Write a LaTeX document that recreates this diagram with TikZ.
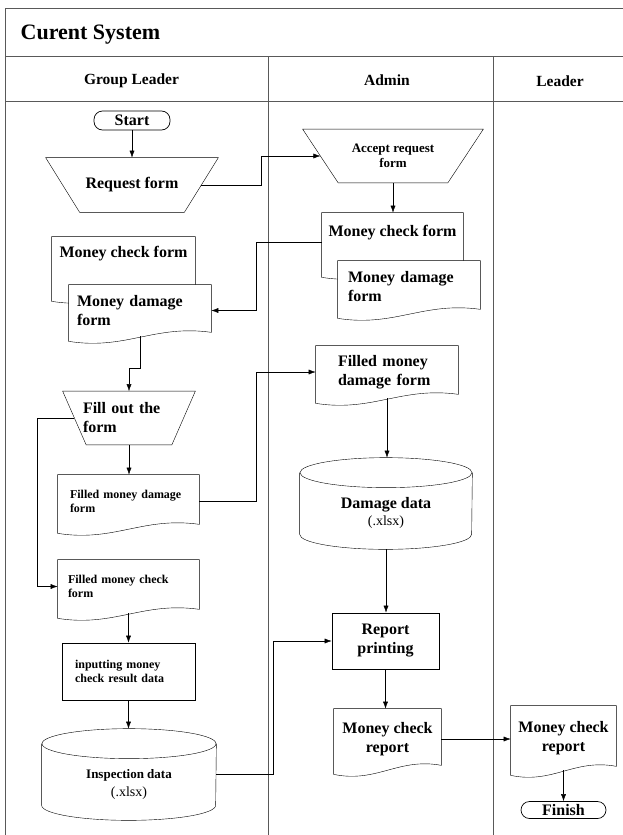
\documentclass[tikz,border=0pt]{standalone}
\usepackage{fontspec}
\setmainfont{Liberation Serif}
\usetikzlibrary{arrows.meta,calc}

\pgfdeclarelayer{background}
\pgfsetlayers{background,main}

% document outline, wavy bottom edge
\newcommand{\docout}[1]{%
  \draw[fill=white] ($(#1.south west)+(0,5)$) -- (#1.north west) -- (#1.north east)
    -- ($(#1.south east)+(0,-4)$)
    .. controls ($(#1.south west)!0.6!(#1.south east)+(0,-12)$)
    and ($(#1.south west)!0.4!(#1.south east)+(0,14)$) .. ($(#1.south west)+(0,5)$) -- cycle;}
% manual operation (wide top, narrow bottom)
\newcommand{\manout}[2]{%
  \draw[fill=white] (#1.north west) -- (#1.north east) -- ($(#1.south east)+(-#2,0)$)
    -- ($(#1.south west)+(#2,0)$) -- cycle;}
% stored data (cylinder)
\newcommand{\cylout}[2]{%
  \draw[fill=white] ($(#1.north west)+(0,15)$) -- ($(#1.south west)+(0,-15)$)
    arc[start angle=180, end angle=360, x radius=#2, y radius=15pt]
    -- ($(#1.north east)+(0,15)$);
  \draw[fill=white] ($(#1.north)+(0,15)$) circle[x radius=#2, y radius=15pt];}

\begin{document}
\begin{tikzpicture}[x=1pt, y=-1pt, line width=0.7pt,
    bigtext/.style={font=\fontsize{16}{19}\selectfont\bfseries},
    midtext/.style={font=\fontsize{13}{15}\selectfont\bfseries},
    smalltext/.style={font=\fontsize{12}{13.5}\selectfont\bfseries},
    headtext/.style={font=\fontsize{15.5}{18}\selectfont\bfseries},
    term/.style={draw, rounded corners=8.5pt, inner sep=0pt, bigtext},
    proc/.style={draw, inner sep=0pt},
    manual/.style={inner sep=0pt},
    docnode/.style={inner sep=0pt},
    store/.style={inner sep=0pt, align=center},
    flow/.style={-{Latex[length=7pt,width=5pt]}},
    lane/.style={line width=1pt, black!65}]
  \useasboundingbox (0,0) rectangle (623,835);

  % titles
  \node[anchor=west, font=\fontsize{22}{26}\selectfont\bfseries] (title) at (17,35) {Curent System};
  \node[headtext] (glhead) at (131.5,81) {Group Leader};
  \node[headtext] (adhead) at (387,80) {Admin};
  \node[headtext] (ldhead) at (560,81) {Leader};

  % group leader
  \node[term, minimum width=76pt, minimum height=19pt] (start) at (132,120.5) {Start};
  \node[manual, bigtext, minimum width=172pt, minimum height=54pt] (req) at (132,185) {Request form};
  \node[docnode, bigtext, minimum width=143pt, minimum height=59pt, text depth=29pt] (mcfG) at (123.5,266.5) {Money check form};
  \node[docnode, bigtext, minimum width=142pt, minimum height=51pt, text width=126pt, align=left] (mdfG) at (140,310.5) {Money damage\\form};
  \node[manual, bigtext, align=left, text width=92pt, minimum width=132pt, minimum height=53pt] (fillout) at (129,418) {Fill out the\\form};
  \node[docnode, smalltext, minimum width=141pt, minimum height=53pt, text width=117pt, align=left] (fmdG) at (128.5,501.5) {Filled money damage\\form};
  \node[docnode, smalltext, minimum width=141pt, minimum height=53pt, text width=121pt, align=left] (fmcG) at (128.5,586.5) {Filled money check\\form};
  \node[proc, smalltext, minimum width=133pt, minimum height=57pt, text width=107pt, align=left] (inp) at (128.5,671.5) {inputting money\\check result data};
  \node[store, minimum width=174pt, minimum height=91pt] (insp) at (129,774.5)
       {\rule{0pt}{29pt}\fontsize{13}{19}\selectfont\bfseries Inspection data\\[5pt]\fontsize{14}{19}\selectfont\mdseries (.xlsx)};

  % admin
  \node[manual, midtext, align=center, minimum width=180pt, minimum height=53pt] (acc) at (393,156) {Accept request\\form};
  \node[docnode, bigtext, minimum width=141pt, minimum height=59pt, text depth=23pt] (mcfA) at (392.5,242.5) {Money check form};
  \node[docnode, bigtext, minimum width=142pt, minimum height=52pt, text width=122pt, align=left] (mdfA) at (409,287) {Money damage\\form};
  \node[docnode, bigtext, minimum width=142pt, minimum height=52pt, text width=98pt, align=left] (fmdA) at (387,372) {Filled money\\damage form};
  \node[store, minimum width=172pt, minimum height=91pt] (dmg) at (386,503.5)
       {\rule{0pt}{30pt}\fontsize{16}{18}\selectfont\bfseries Damage data\\[3pt]\fontsize{14}{18}\selectfont\mdseries (.xlsx)};
  \node[proc, bigtext, align=center, minimum width=107pt, minimum height=56pt] (rpt) at (385.5,641) {Report\\printing};
  \node[docnode, bigtext, align=center, minimum width=107pt, minimum height=60pt] (mcrA) at (387.5,739) {Money check\\report};

  % leader
  \node[docnode, bigtext, align=center, minimum width=105pt, minimum height=64pt] (mcrL) at (563.5,738) {Money check\\report};
  \node[term, minimum width=85pt, minimum height=17pt] (fin) at (563.5,810) {Finish};

  \begin{pgfonlayer}{background}
    \draw[lane] (623,8) -- (5,8) -- (5,835);
    \draw[lane] (5,56) -- (623,56);
    \draw[lane] (5,101) -- (623,101);
    \draw[lane] (268,56) -- (268,835);
    \draw[lane] (493,56) -- (493,835);
    \manout{req}{34}
    \manout{acc}{35.5}
    \manout{fillout}{23.5}
    \docout{mcfG}
    \docout{mdfG}
    \docout{mcfA}
    \docout{mdfA}
    \docout{fmdG}
    \docout{fmcG}
    \docout{fmdA}
    \docout{mcrA}
    \docout{mcrL}
    \cylout{dmg}{86pt}
    \cylout{insp}{87pt}
  \end{pgfonlayer}

  % flow
  \draw[flow] (start) -- (req);
  \draw[flow] ($(req.east)+(-17,0)$) -- ++(60,0) |- ($(acc.west)+(17.75,0)$);
  \draw[flow] (acc.south) -- (acc.south |- mcfA.north);
  \draw[flow] (mcfA.west) -- ++(-65,0) |- (mdfG.east);
  \draw[flow] (mdfG.south) -- ++(0,32) -| (fillout.north);
  \draw[flow] (fillout.south) -- (fillout.south |- fmdG.north);
  \draw[flow] ($(fillout.west)+(11.75,0)$) -- ++(-36.75,0) |- (fmcG.west);
  \draw[flow] (fmdG.east) -- ++(57,0) |- (fmdA.west);
  \draw[flow] (fmdA.south) -- (fmdA.south |- dmg.north);
  \draw[flow] (dmg.south) -- (dmg.south |- rpt.north);
  \draw[flow] (fmcG.south) -- (fmcG.south |- inp.north);
  \draw[flow] (inp.south) -- (inp.south |- insp.north);
  \draw[flow] (insp.east) -- ++(57,0) |- (rpt.west);
  \draw[flow] (rpt.south) -- (rpt.south |- mcrA.north);
  \draw[flow] (mcrA.east) -- (mcrA.east -| mcrL.west);
  \draw[flow] (mcrL.south) -- (mcrL.south |- fin.north);
\end{tikzpicture}
\end{document}
